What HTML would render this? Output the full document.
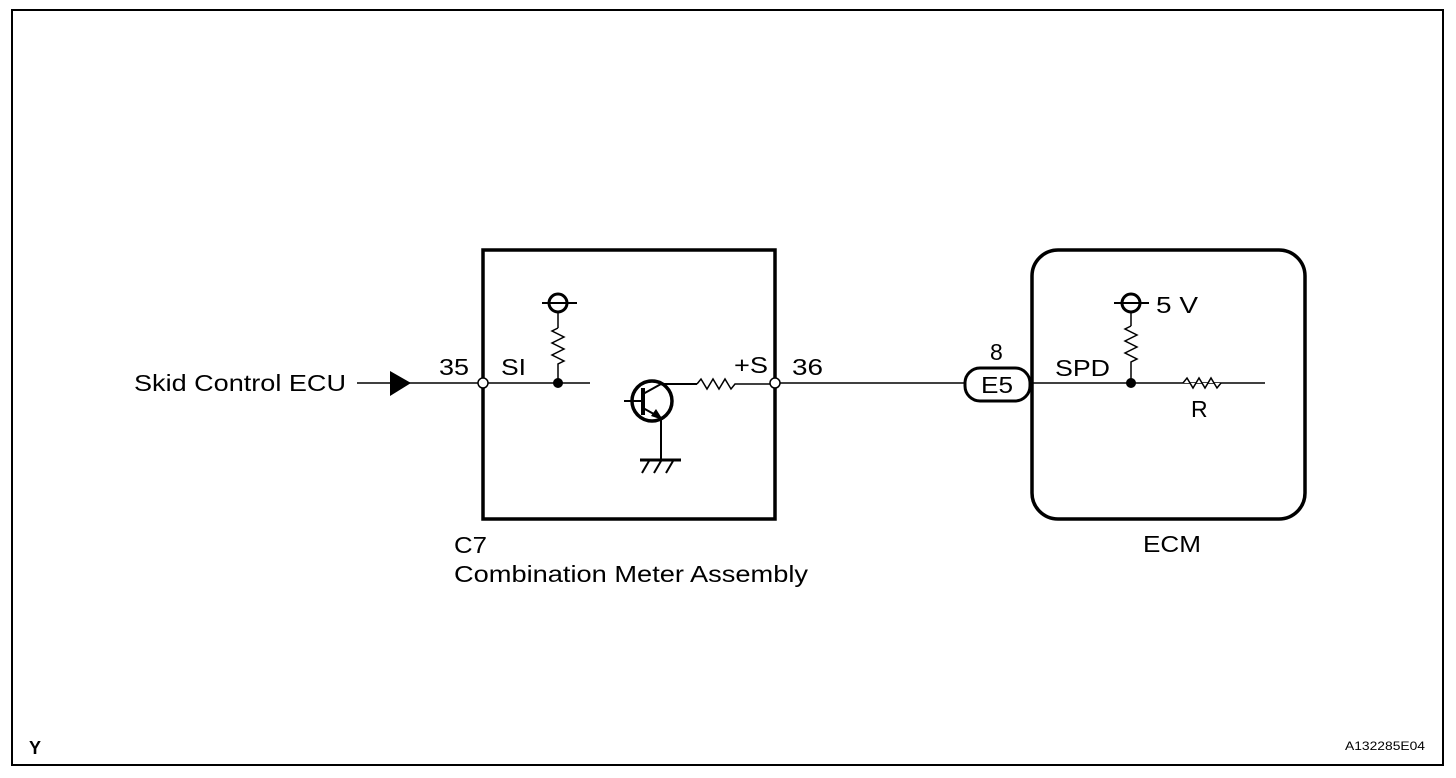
<!DOCTYPE html>
<html><head><meta charset="utf-8"><style>body{margin:0;background:#fff}svg{display:block}text{font-family:"Liberation Sans",sans-serif;fill:#000}</style></head><body>
<svg width="1456" height="778" viewBox="0 0 1456 778" xmlns="http://www.w3.org/2000/svg">
<rect x="12" y="10" width="1431" height="755" fill="none" stroke="#000" stroke-width="2"/>
<g stroke="#000" fill="none">
<rect x="483" y="250" width="292" height="269" stroke-width="3.5"/>
<rect x="1032" y="250" width="273" height="269" rx="26" stroke-width="3.5"/>
<line x1="357" y1="383" x2="483" y2="383" stroke-width="1.5"/>
<line x1="483" y1="383" x2="590" y2="383" stroke-width="1.5"/>
<line x1="558" y1="313" x2="558" y2="328" stroke-width="1.5"/>
<polyline points="558,328 552,331 564,337 552,343 564,349 552,355 564,361 558,364 558,383" stroke-width="1.5"/>
<circle cx="558" cy="303" r="9" stroke-width="3"/>
<line x1="542" y1="303" x2="577" y2="303" stroke-width="2"/>
<circle cx="652" cy="401" r="20" stroke-width="3.5"/>
<line x1="624" y1="401" x2="643" y2="401" stroke-width="2"/>
<line x1="643" y1="388" x2="643" y2="415" stroke-width="4"/>
<polyline points="643,394 661,384 697,384" stroke-width="2"/>
<polyline points="697,384 701,379 707,389 713,379 719,389 725,379 731,389 735,384 775,384" stroke-width="1.5"/>
<polyline points="643,408 661,418 661,460" stroke-width="2"/>
<line x1="640" y1="460" x2="681" y2="460" stroke-width="3"/>
<line x1="649" y1="461" x2="642" y2="473" stroke-width="2"/><line x1="661" y1="461" x2="654" y2="473" stroke-width="2"/><line x1="673" y1="461" x2="666" y2="473" stroke-width="2"/>
<line x1="775" y1="383" x2="965" y2="383" stroke-width="1.5"/>
<rect x="965" y="368" width="65" height="33" rx="15" stroke-width="3"/>
<line x1="1032" y1="383" x2="1265" y2="383" stroke-width="1.5"/>
<circle cx="1131" cy="303" r="9" stroke-width="3"/>
<line x1="1114" y1="303" x2="1149" y2="303" stroke-width="2"/>
<line x1="1131" y1="313" x2="1131" y2="326" stroke-width="1.5"/>
<polyline points="1131,326 1125,329 1137,335 1125,341 1137,347 1125,353 1137,359 1131,362 1131,383" stroke-width="1.5"/>
<polyline points="1183,383 1187,378 1193,388 1199,378 1205,388 1211,378 1217,388 1221,383" stroke-width="1.5" fill="#fff"/>
</g>
<polygon points="390,371 390,396 411,383" fill="#000"/>
<circle cx="558" cy="383" r="5" fill="#000"/>
<circle cx="1131" cy="383" r="5" fill="#000"/>
<polygon points="656,409 663,420 651,416" fill="#000"/>
<circle cx="483" cy="383" r="5" fill="#fff" stroke="#000" stroke-width="1.5"/>
<circle cx="775" cy="383" r="5" fill="#fff" stroke="#000" stroke-width="1.5"/>
<g font-size="23">
<text x="134" y="391" textLength="212" lengthAdjust="spacingAndGlyphs">Skid Control ECU</text>
<text x="439" y="375" textLength="30" lengthAdjust="spacingAndGlyphs">35</text>
<text x="501" y="375" textLength="25" lengthAdjust="spacingAndGlyphs">SI</text>
<text x="734" y="373" textLength="34" lengthAdjust="spacingAndGlyphs">+S</text>
<text x="792" y="375" textLength="31" lengthAdjust="spacingAndGlyphs">36</text>
<text x="990" y="360">8</text>
<text x="981" y="393" textLength="32" lengthAdjust="spacingAndGlyphs">E5</text>
<text x="1055" y="376" textLength="55" lengthAdjust="spacingAndGlyphs">SPD</text>
<text x="1156" y="313" textLength="42" lengthAdjust="spacingAndGlyphs">5 V</text>
<text x="1191" y="417">R</text>
<text x="454" y="553" textLength="33" lengthAdjust="spacingAndGlyphs">C7</text>
<text x="454" y="582" textLength="354" lengthAdjust="spacingAndGlyphs">Combination Meter Assembly</text>
<text x="1143" y="552" textLength="58" lengthAdjust="spacingAndGlyphs">ECM</text>
<text x="29" y="754" font-weight="bold" font-size="18">Y</text>
</g>
<text x="1345" y="750" font-size="12" textLength="80" lengthAdjust="spacingAndGlyphs">A132285E04</text>
</svg>
</body></html>
